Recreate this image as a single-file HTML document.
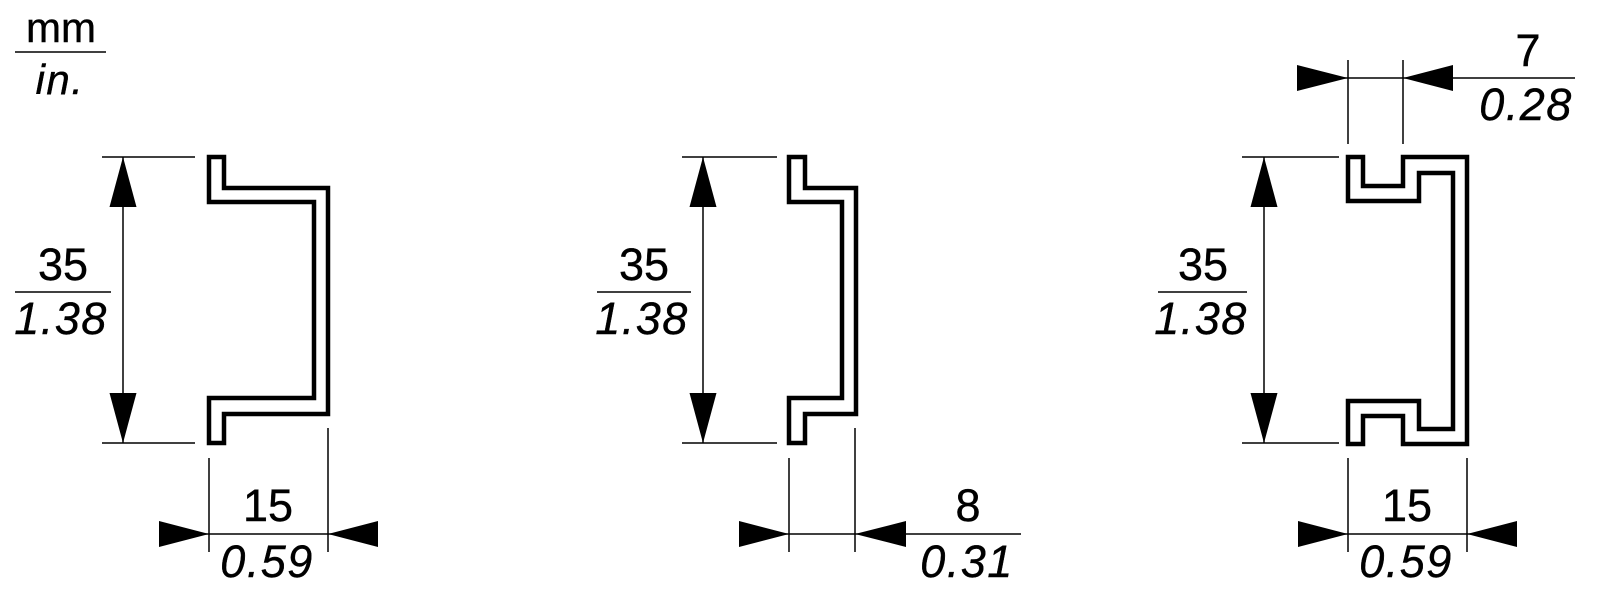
<!DOCTYPE html>
<html><head><meta charset="utf-8"><style>
html,body{margin:0;padding:0;background:#fff;}
svg{display:block;}
text{font-family:"Liberation Sans",Arial,sans-serif;fill:#000;}
.i{font-style:italic;letter-spacing:1.5px;}
</style></head><body>
<svg width="1602" height="600" viewBox="0 0 1602 600" xmlns="http://www.w3.org/2000/svg">
<g stroke="#000" stroke-width="1.5" fill="none">
<line x1="15" y1="52" x2="106" y2="52"/>
<line x1="102" y1="157" x2="195" y2="157"/><line x1="102" y1="443" x2="195" y2="443"/>
<line x1="123" y1="157" x2="123" y2="443"/>
<line x1="15" y1="292" x2="111" y2="292"/>
<line x1="209" y1="458" x2="209" y2="552"/><line x1="328" y1="428" x2="328" y2="552"/>
<line x1="160" y1="534" x2="378" y2="534"/>
<line x1="682" y1="157" x2="777" y2="157"/><line x1="682" y1="443" x2="777" y2="443"/>
<line x1="703" y1="157" x2="703" y2="443"/>
<line x1="597" y1="292" x2="691" y2="292"/>
<line x1="789" y1="458" x2="789" y2="552"/><line x1="855" y1="428" x2="855" y2="552"/>
<line x1="739" y1="534" x2="1021" y2="534"/>
<line x1="1242" y1="157" x2="1339" y2="157"/><line x1="1242" y1="443" x2="1339" y2="443"/>
<line x1="1264" y1="157" x2="1264" y2="443"/>
<line x1="1158" y1="292" x2="1247" y2="292"/>
<line x1="1348" y1="458" x2="1348" y2="552"/><line x1="1467" y1="458" x2="1467" y2="552"/>
<line x1="1298" y1="534" x2="1517" y2="534"/>
<line x1="1348" y1="60" x2="1348" y2="144"/><line x1="1403" y1="60" x2="1403" y2="144"/>
<line x1="1297" y1="78" x2="1575" y2="78"/>
</g>
<g fill="#000">
<polygon points="123,157 109.5,207 136.5,207"/><polygon points="123,443 109.5,393 136.5,393"/>
<polygon points="703,157 689.5,207 716.5,207"/><polygon points="703,443 689.5,393 716.5,393"/>
<polygon points="1264,157 1250.5,207 1277.5,207"/><polygon points="1264,443 1250.5,393 1277.5,393"/>
<polygon points="209,534 159,521 159,547"/><polygon points="328,534 378,521 378,547"/>
<polygon points="789,534 739,521 739,547"/><polygon points="855,534 906,521 906,547"/>
<polygon points="1348,534 1298,521 1298,547"/><polygon points="1467,534 1517,521 1517,547"/>
<polygon points="1348,78 1297,65 1297,91"/><polygon points="1403,78 1453,65 1453,91"/>
</g>
<g stroke="#000" stroke-width="4.5" fill="none" stroke-linejoin="miter">
<polygon points="209,157 224,157 224,188 328,188 328,414 224,414 224,443 209,443 209,398 314,398 314,202 209,202"/>
<polygon points="789,157 805,157 805,188 856,188 856,414 805,414 805,443 789,443 789,398 842,398 842,202 789,202"/>
<polygon points="1348,157 1363,157 1363,186 1403,186 1403,157 1467,157 1467,444 1403,444 1403,416 1363,416 1363,444 1348,444 1348,401 1419,401 1419,429 1453,429 1453,173 1419,173 1419,201 1348,201"/>
</g>
<g font-size="45" text-anchor="middle" stroke="#000" stroke-width="0.4">
<text x="61" y="42" font-size="42">mm</text>
<text x="60" y="94" font-size="42" class="i">in.</text>
<text x="63" y="280">35</text><text x="61" y="334" class="i">1.38</text>
<text x="644" y="280">35</text><text x="642" y="334" class="i">1.38</text>
<text x="1203" y="280">35</text><text x="1201" y="334" class="i">1.38</text>
<text x="268" y="521">15</text><text x="267" y="577" class="i">0.59</text>
<text x="968" y="521">8</text><text x="967" y="577" class="i">0.31</text>
<text x="1407" y="521">15</text><text x="1406" y="577" class="i">0.59</text>
<text x="1528" y="66">7</text><text x="1526" y="120" class="i">0.28</text>
</g>
</svg>
</body></html>
